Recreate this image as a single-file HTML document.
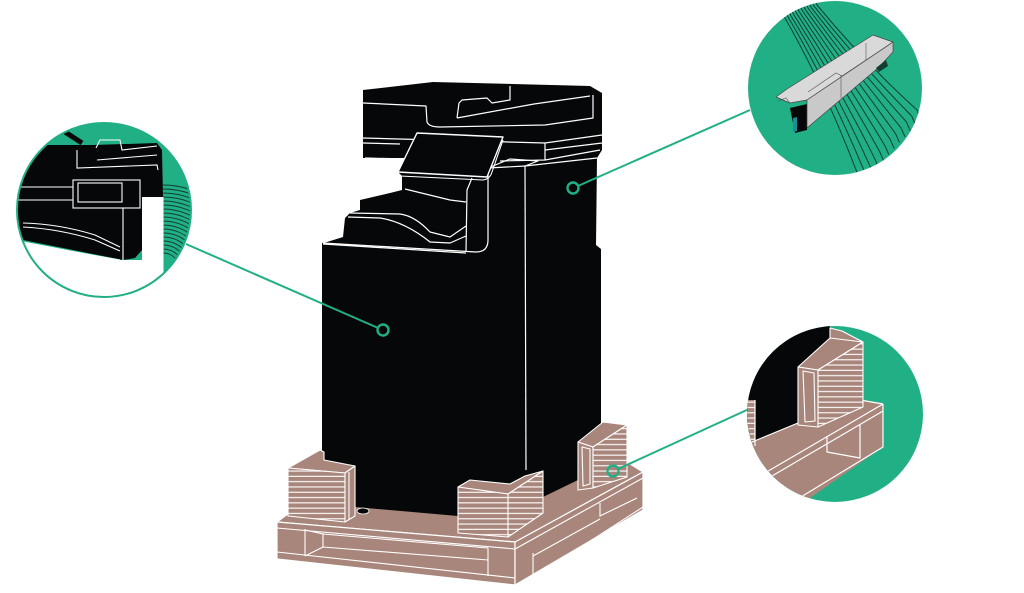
<!DOCTYPE html>
<html><head><meta charset="utf-8"><style>
html,body{margin:0;padding:0;background:#fff;width:1024px;height:593px;overflow:hidden}
svg{display:block}
</style></head><body>
<svg width="1024" height="593" viewBox="0 0 1024 593" xmlns="http://www.w3.org/2000/svg">
<defs>
  <pattern id="st" width="20" height="5.3" patternUnits="userSpaceOnUse">
    <rect width="20" height="5.3" fill="#a9867c"/>
    <rect y="4.1" width="20" height="1.1" fill="#fff"/>
  </pattern>
  <clipPath id="cL"><circle cx="104" cy="210" r="87"/></clipPath>
  <clipPath id="cTR"><circle cx="835" cy="88" r="87"/></clipPath>
  <clipPath id="cBR"><circle cx="835" cy="414" r="88"/></clipPath>
</defs>

<!-- ============ PALLET ============ -->
<g stroke="#fff" stroke-width="1.2" stroke-linejoin="round">
  <polygon points="277,522 300,505 600,452 630,464 643,472 515,542" fill="#a9867c"/>
  <polygon points="277,522 515,542 515,585 277,559" fill="#a9867c"/>
  <polygon points="515,542 643,472 643,510 515,585" fill="#a9867c"/>
</g>
<g stroke="#fff" stroke-width="1.1" fill="none">
  <path d="M277,528 L515,549 L643,478"/>
  <path d="M277,552 L515,578"/>
  <path d="M305,529 L305,556"/>
  <path d="M305,530 L323,534 L323,547 L305,556"/>
  <path d="M323,534 L488,548"/>
  <path d="M323,547 L488,560"/>
  <path d="M488,548 L488,576"/>
  <path d="M533,553 L533,580"/>
  <path d="M533,556 L600,519"/>
  <path d="M600,503 L600,516 L637,498"/>
  <path d="M533,578 L643,507"/>
</g>

<!-- ============ PRINTER BODY ============ -->
<path d="M363,90 L433,82 L590,86 L602,93 L602,150 L597,158 L596,245 L601,249 L601,470 L578,480 L543,497 L526,505 L458,516 L355,507 L322,505 L322,243 L327,242 L343,237 L345,218 L350,213 L360,210 L360,200 L390,193 L402,190 L402,176 L398,172 L405,158 L363,158 Z" fill="#060708"/>

<g stroke="#fff" stroke-width="1.2" fill="none" stroke-linejoin="round">
  <path d="M363,103 L426,106 L427,122 Q429,127 440,127 L545,125 L593,118 L593,95"/>
  <path d="M457,118 L459,103 L462,100 L487,98 L492,103 L510,100 L510,86"/>
  <path d="M457,118 L534,104 L590,96"/>
  <path d="M363,138 L545,143 L602,135"/>
  <path d="M363,143 L400,144"/>
  <path d="M545,150 L602,143"/>
  <path d="M545,143 L545,160"/>
  <path d="M365,158 L405,159"/>
  <path d="M500,161 L545,160 L600,150"/>
  <path d="M488,168 L510,159 L538,161 L525,166 Z"/>
  <path d="M525,166 L597,158"/>
  <path d="M525,166 L526,470"/>
  <path d="M488,168 L488,240 Q488,252 476,252 L323,243"/>
  <path d="M323,244 L466,253"/>
  <path d="M472,178 L467,190 L466,252"/>
  <path d="M405,189 L450,200 L466,202"/>
  <path d="M350,213 L400,214 Q415,216 430,232 L450,237 L466,226"/>
  <path d="M348,217 L380,218 Q405,222 430,242 L450,243 L466,236"/>
</g>
<polygon points="398,172 417,133 503,137 487,177" fill="#060708" stroke="#fff" stroke-width="1.4" stroke-linejoin="round"/>
<path d="M400,176 L483,180 Q490,179 492,172 L503,140" stroke="#fff" stroke-width="1.1" fill="none"/>
<ellipse cx="363" cy="511" rx="6" ry="3" fill="#060708" stroke="#fff" stroke-width="0.8"/>

<!-- ============ CORNER BLOCKS ============ -->
<g stroke="#fff" stroke-width="1.1" stroke-linejoin="round">
  <polygon points="288,468 320,450 324,452 324,460 355,466 345,473" fill="#a9867c"/>
  <polygon points="288,468 345,473 345,522 288,516" fill="url(#st)"/>
  <polygon points="345,473 355,466 355,516 345,522" fill="#a9867c"/>
  <line x1="349" y1="472" x2="349" y2="519"/>
  <polygon points="458,487 470,480 510,484 525,476 543,471 508,494" fill="#a9867c"/>
  <polygon points="458,487 508,494 508,537 458,533" fill="url(#st)"/>
  <polygon points="508,494 543,471 543,513 508,537" fill="url(#st)"/>
  <polygon points="578,442 603,422 627,425 593,447" fill="#a9867c"/>
  <polygon points="578,442 593,447 593,488 578,490" fill="#a9867c"/>
  <polygon points="582,447 590,449 590,484 583,486" fill="none"/>
  <polygon points="593,447 627,425 627,477 593,488" fill="url(#st)"/>
</g>

<!-- ============ CONNECTORS ============ -->
<g stroke="#21af86" fill="none" stroke-width="2">
  <line x1="377" y1="327.5" x2="186" y2="244"/>
  <circle cx="383" cy="330" r="5.5" stroke-width="2.4"/>
  <line x1="579" y1="185.5" x2="750" y2="110"/>
  <circle cx="573" cy="188" r="5.5" stroke-width="2.4"/>
  <line x1="619" y1="468.5" x2="749" y2="409"/>
  <circle cx="613" cy="471" r="5.5" stroke-width="2.4"/>
</g>

<!-- ============ LEFT INSET ============ -->
<g clip-path="url(#cL)">
  <rect x="10" y="118" width="190" height="190" fill="#21af86"/>
  <polygon points="142,197 163,197 163,310 5,310 5,238 120,260 142,260" fill="#fff"/>
  <g stroke="#123d31" stroke-width="0.9" fill="none">
    <path d="M163,185 A85,85 0 0 1 248,270"/>
    <path d="M163,189 A81,81 0 0 1 244,270"/>
    <path d="M163,193 A77,77 0 0 1 240,270"/>
    <path d="M163,197 A73,73 0 0 1 236,270"/>
    <path d="M163,201 A69,69 0 0 1 232,270"/>
    <path d="M163,205 A65,65 0 0 1 228,270"/>
    <path d="M163,209 A61,61 0 0 1 224,270"/>
    <path d="M163,213 A57,57 0 0 1 220,270"/>
    <path d="M163,217 A53,53 0 0 1 216,270"/>
    <path d="M163,221 A49,49 0 0 1 212,270"/>
    <path d="M163,225 A45,45 0 0 1 208,270"/>
    <path d="M163,229 A41,41 0 0 1 204,270"/>
    <path d="M163,233 A37,37 0 0 1 200,270"/>
    <path d="M163,237 A33,33 0 0 1 196,270"/>
    <path d="M163,241 A29,29 0 0 1 192,270"/>
    <path d="M163,245 A25,25 0 0 1 188,270"/>
    <path d="M163,249 A21,21 0 0 1 184,270"/>
    <path d="M163,253 A17,17 0 0 1 180,270"/>
  </g>
  <line x1="163" y1="197" x2="163" y2="300" stroke="#fff" stroke-width="1"/>
  <line x1="65" y1="132" x2="82" y2="143" stroke="#060708" stroke-width="5"/>
  <polygon points="5,146 23,145 93,145 157,143 162,150 163,197 142,197 142,250 135,258 123,260 23,240 5,238" fill="#060708"/>
  <g stroke="#fff" stroke-width="1.1" fill="none">
    <path d="M96,148 L100,140 L120,140 L122,150 L157,146"/>
    <path d="M97,160 L157,155"/>
    <path d="M77,150 L77,168 L157,165 L158,170"/>
    <path d="M10,187 L73,187"/>
    <path d="M10,200 L73,200"/>
    <rect x="73" y="180" width="67" height="28"/>
    <rect x="78" y="183" width="44" height="19"/>
    <path d="M123,208 L123,260"/>
    <path d="M23,223 Q60,224 95,235 L120,247"/>
    <path d="M23,227 Q60,229 95,240 L120,251"/>
    <path d="M5,240 L120,260"/>
  </g>
</g>
<circle cx="104" cy="210" r="87" fill="none" stroke="#21af86" stroke-width="2"/>

<!-- ============ TOP-RIGHT INSET ============ -->
<g clip-path="url(#cTR)">
  <rect x="745" y="0" width="180" height="180" fill="#21af86"/>
  <g stroke="#123d31" stroke-width="1" fill="none">
    <path d="M779,6 L785,18 Q825,88 858,175 L862,184"/>
    <path d="M781.9,4.8 L787.9,16.8 Q828.6,85.7 863.4,169.1 L867.4,178.1"/>
    <path d="M784.8,3.6 L790.8,15.6 Q832.3,83.5 868.7,163.2 L872.7,172.2"/>
    <path d="M787.7,2.5 L793.7,14.5 Q835.9,81.2 874.1,157.3 L878.1,166.3"/>
    <path d="M790.6,1.3 L796.6,13.3 Q839.5,78.9 879.5,151.4 L883.5,160.4"/>
    <path d="M793.5,0.1 L799.5,12.1 Q843.2,76.6 884.8,145.5 L888.8,154.5"/>
    <path d="M796.5,-1.1 L802.5,10.9 Q846.8,74.4 890.2,139.5 L894.2,148.5"/>
    <path d="M799.4,-2.3 L805.4,9.7 Q850.5,72.1 895.5,133.6 L899.5,142.6"/>
    <path d="M802.3,-3.5 L808.3,8.5 Q854.1,69.8 900.9,127.7 L904.9,136.7"/>
    <path d="M805.2,-4.6 L811.2,7.4 Q857.7,67.5 906.3,121.8 L910.3,130.8"/>
    <path d="M808.1,-5.8 L814.1,6.2 Q861.4,65.3 911.6,115.9 L915.6,124.9"/>
    <path d="M811,-7 L817,5 Q865,63 917,110 L921,119"/>
  </g>
  <polygon points="790,108 807,104 807,130 795,133" fill="#060708"/>
  <polygon points="793,118 797,117 797,131 793,132" fill="#1a8f9a"/>
  <polygon points="776,97 787,89 873,35 893,42 807,100 790,103" fill="#d9d9d9" stroke="#444" stroke-width="0.7" stroke-linejoin="round"/>
  <polygon points="807,100 893,42 893,52 878,68 807,128" fill="#c9c9c9" stroke="#444" stroke-width="0.7" stroke-linejoin="round"/>
  <polygon points="876,68 886,60 888,66 879,72" fill="#123d31"/>
  <g stroke="#555" stroke-width="0.6" fill="none">
    <path d="M808,92 L836,73 L842,76 L866,60"/>
    <path d="M841,75 L841,98"/>
    <path d="M866,43 L866,60"/>
    <path d="M778,101 L786,98 L790,103"/>
  </g>
</g>

<!-- ============ BOTTOM-RIGHT INSET ============ -->
<g clip-path="url(#cBR)">
  <rect x="745" y="324" width="182" height="182" fill="#21af86"/>
  <polygon points="740,320 830,320 830,410 740,452" fill="#060708"/>
  <rect x="744" y="400" width="11" height="45" fill="url(#st)"/>
  <polygon points="735,450 798,423 830,410 860,400 883,403 883,447 800,505 735,520" fill="#a9867c"/>
  <g stroke="#fff" stroke-width="1.2" fill="none" stroke-linejoin="round">
    <path d="M740,447 L798,423"/>
    <path d="M818,417 L860,400 L883,404"/>
    <path d="M883,404 L770,470 L735,490"/>
    <path d="M883,411 L772,476 L735,498"/>
    <path d="M883,404 L883,447 L796,500"/>
    <path d="M827,436 L827,452 L860,458 L860,425"/>
    <path d="M755,400 L755,446"/>
  </g>
  <g stroke="#fff" stroke-width="1.1" stroke-linejoin="round">
    <polygon points="830,328 842,331 863,342 830,340" fill="#a9867c"/>
    <polygon points="798,367 830,338 863,342 818,370" fill="#a9867c"/>
    <polygon points="818,370 863,342 863,407 818,427" fill="url(#st)"/>
    <polygon points="798,367 818,370 818,427 798,425" fill="#a9867c"/>
    <polygon points="803,371 814,373 815,421 805,422" fill="none"/>
  </g>
</g>
</svg>
</body></html>
